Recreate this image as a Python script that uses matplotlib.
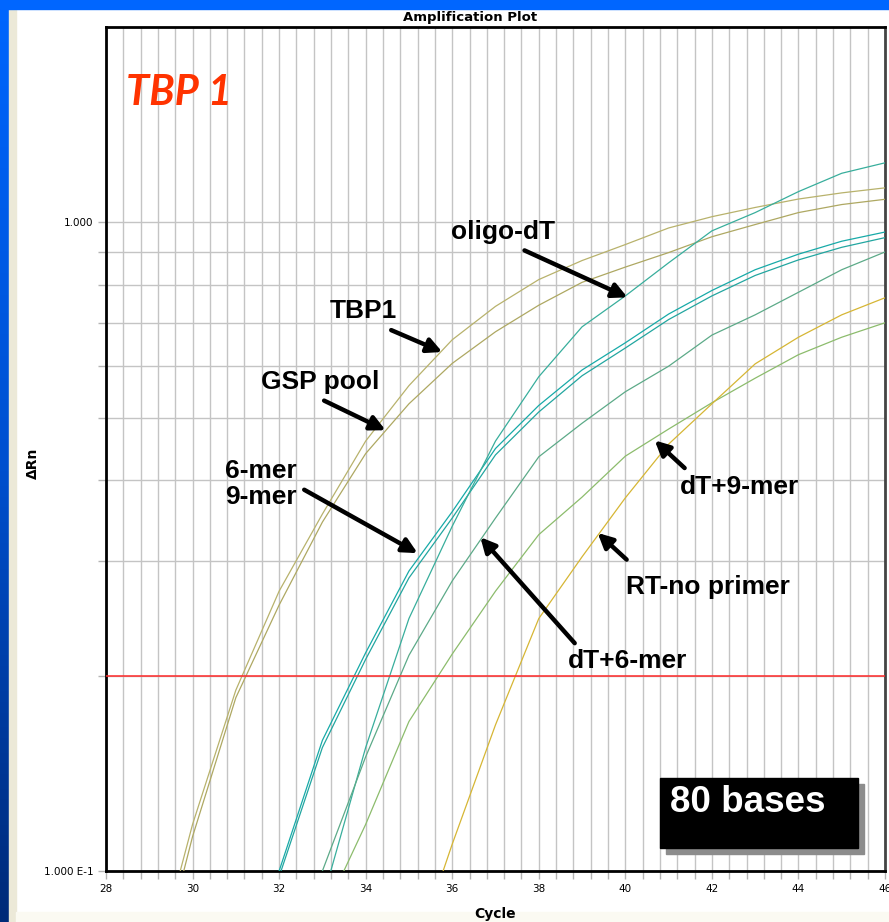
"""Amplification plot (qPCR) - TBP 1, 80 bases amplicon."""
import numpy as np
import matplotlib
matplotlib.use("Agg")
import matplotlib.pyplot as plt
from matplotlib.patches import Rectangle
from matplotlib.ticker import FixedLocator, FixedFormatter, MultipleLocator, NullFormatter

# --- data: delta Rn per cycle ---
cycles = list(range(28, 47))

tbp1 = [0.036, 0.066, 0.118, 0.19, 0.27, 0.355, 0.46, 0.56, 0.659, 0.742,
        0.816, 0.873, 0.924, 0.98, 1.02, 1.054, 1.086, 1.11, 1.13]
gsp_pool = [0.035, 0.062, 0.113, 0.185, 0.257, 0.345, 0.44, 0.525, 0.606, 0.678,
            0.745, 0.808, 0.853, 0.898, 0.95, 0.992, 1.035, 1.065, 1.085]
mer6 = [0.012, 0.022, 0.035, 0.06, 0.1, 0.159, 0.217, 0.29, 0.358, 0.448,
        0.522, 0.592, 0.652, 0.722, 0.785, 0.845, 0.893, 0.935, 0.966]
mer9 = [0.012, 0.021, 0.034, 0.058, 0.098, 0.155, 0.212, 0.283, 0.35, 0.438,
        0.51, 0.58, 0.64, 0.708, 0.77, 0.828, 0.875, 0.915, 0.947]
oligo_dt = [0.008, 0.012, 0.02, 0.033, 0.055, 0.09, 0.155, 0.245, 0.34, 0.46,
            0.578, 0.69, 0.77, 0.866, 0.97, 1.035, 1.115, 1.19, 1.235]
dt_6mer = [0.01, 0.016, 0.026, 0.04, 0.063, 0.1, 0.15, 0.215, 0.28, 0.35,
           0.435, 0.49, 0.548, 0.6, 0.67, 0.72, 0.78, 0.845, 0.9]
dt_9mer = [0.008, 0.012, 0.019, 0.03, 0.05, 0.085, 0.118, 0.17, 0.216, 0.27,
           0.33, 0.377, 0.436, 0.48, 0.527, 0.575, 0.625, 0.665, 0.70]
rt_no_primer = [0.003, 0.005, 0.008, 0.012, 0.02, 0.03, 0.045, 0.07, 0.11, 0.168,
                0.245, 0.305, 0.376, 0.455, 0.525, 0.605, 0.665, 0.72, 0.765]

threshold = 0.2

series = [
    (gsp_pool, "#aea862"),
    (tbp1, "#b8b26c"),
    (mer6, "#17aaa8"),
    (mer9, "#22a6a0"),
    (oligo_dt, "#38ae9c"),
    (dt_6mer, "#5caa88"),
    (dt_9mer, "#8cbc6c"),
    (rt_no_primer, "#d6b634"),
]

# --- figure ---
fig = plt.figure(figsize=(8.89, 9.22), dpi=100)
W, H = 889, 922

# window frame: blue band on top and left, cream strips
grad = np.linspace(0, 1, 256).reshape(-1, 1)
bax = fig.add_axes([0, 0, 9 / W, 1])
bax.imshow(grad, aspect="auto", extent=[0, 1, 0, 1],
           cmap=matplotlib.colors.LinearSegmentedColormap.from_list(
               "b", ["#0066ff", "#0050d0", "#002a78"]))
bax.axis("off")
fig.patches.append(Rectangle((0, 1 - 9 / H), 1, 9 / H, transform=fig.transFigure,
                             color="#0066ff", zorder=5))
fig.patches.append(Rectangle((9 / W, 0), 7 / W, 1 - 9 / H, transform=fig.transFigure,
                             color="#ece9d8", zorder=1))
fig.patches.append(Rectangle((16 / W, 0), 1 - 16 / W, 10 / H, transform=fig.transFigure,
                             color="#fbfaf2", zorder=1))

ax = fig.add_axes([106 / W, 51 / H, 779 / W, 844 / H])
for vals, col in series:
    ax.plot(cycles, vals, color=col, lw=0.9, zorder=3)
ax.axhline(threshold, color="#ff2a2a", lw=1.1, zorder=4)

ax.set_yscale("log")
ax.set_xlim(28, 46)
ax.set_ylim(0.1, 2.0)

ax.xaxis.set_major_locator(MultipleLocator(2))
ax.xaxis.set_minor_locator(MultipleLocator(0.4))
ax.yaxis.set_major_locator(FixedLocator([0.1, 1.0]))
ax.yaxis.set_major_formatter(FixedFormatter(["1.000 E-1", "1.000"]))
ax.yaxis.set_minor_locator(FixedLocator([0.2, 0.3, 0.4, 0.5, 0.6, 0.7, 0.8, 0.9]))
ax.yaxis.set_minor_formatter(NullFormatter())

ax.grid(True, which="both", color="#c4c4c4", lw=1.0, zorder=0)
ax.set_axisbelow(True)
ax.tick_params(which="both", direction="out", length=6, width=1,
               color="#b4b4b4", labelsize=7.5, pad=3)

for s in ["left", "bottom", "top"]:
    ax.spines[s].set_linewidth(2)
    ax.spines[s].set_color("black")
ax.spines["right"].set_linewidth(2)
ax.spines["right"].set_color("#444444")

fig.text(470 / W, 1 - 17 / H, "Amplification Plot", ha="center", va="center",
         fontsize=9.5, fontweight="bold")
fig.text(495 / W, 1 - 914 / H, "Cycle", ha="center", va="center",
         fontsize=10, fontweight="bold")
fig.text(33 / W, 1 - 463 / H, "ΔRn", ha="center", va="center",
         fontsize=10, fontweight="bold", rotation=90)

# --- annotations ---
bold = dict(fontsize=19, fontweight="bold", family="Liberation Sans", linespacing=1.1)
arrow = dict(arrowstyle="-|>", lw=3.2, color="black", mutation_scale=22,
             shrinkA=0, shrinkB=0)


def label(text, xy, xytext, txt_xy):
    ax.annotate("", xy=xy, xytext=xytext, arrowprops=arrow, zorder=6)
    ax.text(txt_xy[0], txt_xy[1], text, ha="left", va="center", zorder=6, **bold)


label("oligo-dT", (40.05, 0.766), (37.67, 0.905), (35.98, 0.965))
label("TBP1", (35.77, 0.631), (34.59, 0.682), (33.16, 0.729))
label("GSP pool", (34.46, 0.478), (33.04, 0.531), (31.59, 0.567))
label("6-mer\n9-mer", (35.20, 0.309), (32.58, 0.387), (30.75, 0.395))
label("dT+9-mer", (40.68, 0.461), (41.37, 0.418), (41.26, 0.391))
label("RT-no primer", (39.36, 0.332), (40.03, 0.302), (40.01, 0.274))
label("dT+6-mer", (36.65, 0.327), (38.83, 0.2245), (38.67, 0.211))

ax.text(28.46, 1.58, "TBP 1", color="#ff3300", fontsize=30, fontweight="bold",
        style="italic", family="Lato", va="center", ha="left", zorder=6)

# "80 bases" box with drop shadow
fig.patches.append(Rectangle((666 / W, 1 - 854 / H), 198 / W, 70 / H,
                             transform=fig.transFigure, color="#8c8c8c", zorder=7))
fig.patches.append(Rectangle((660 / W, 1 - 848 / H), 198 / W, 70 / H,
                             transform=fig.transFigure, color="black", zorder=8))
fig.text(670 / W, 1 - 802 / H, "80 bases", color="white", fontsize=26.5,
         fontweight="bold", family="Liberation Sans", va="center", ha="left", zorder=9)

fig.savefig("out.png", dpi=100)
